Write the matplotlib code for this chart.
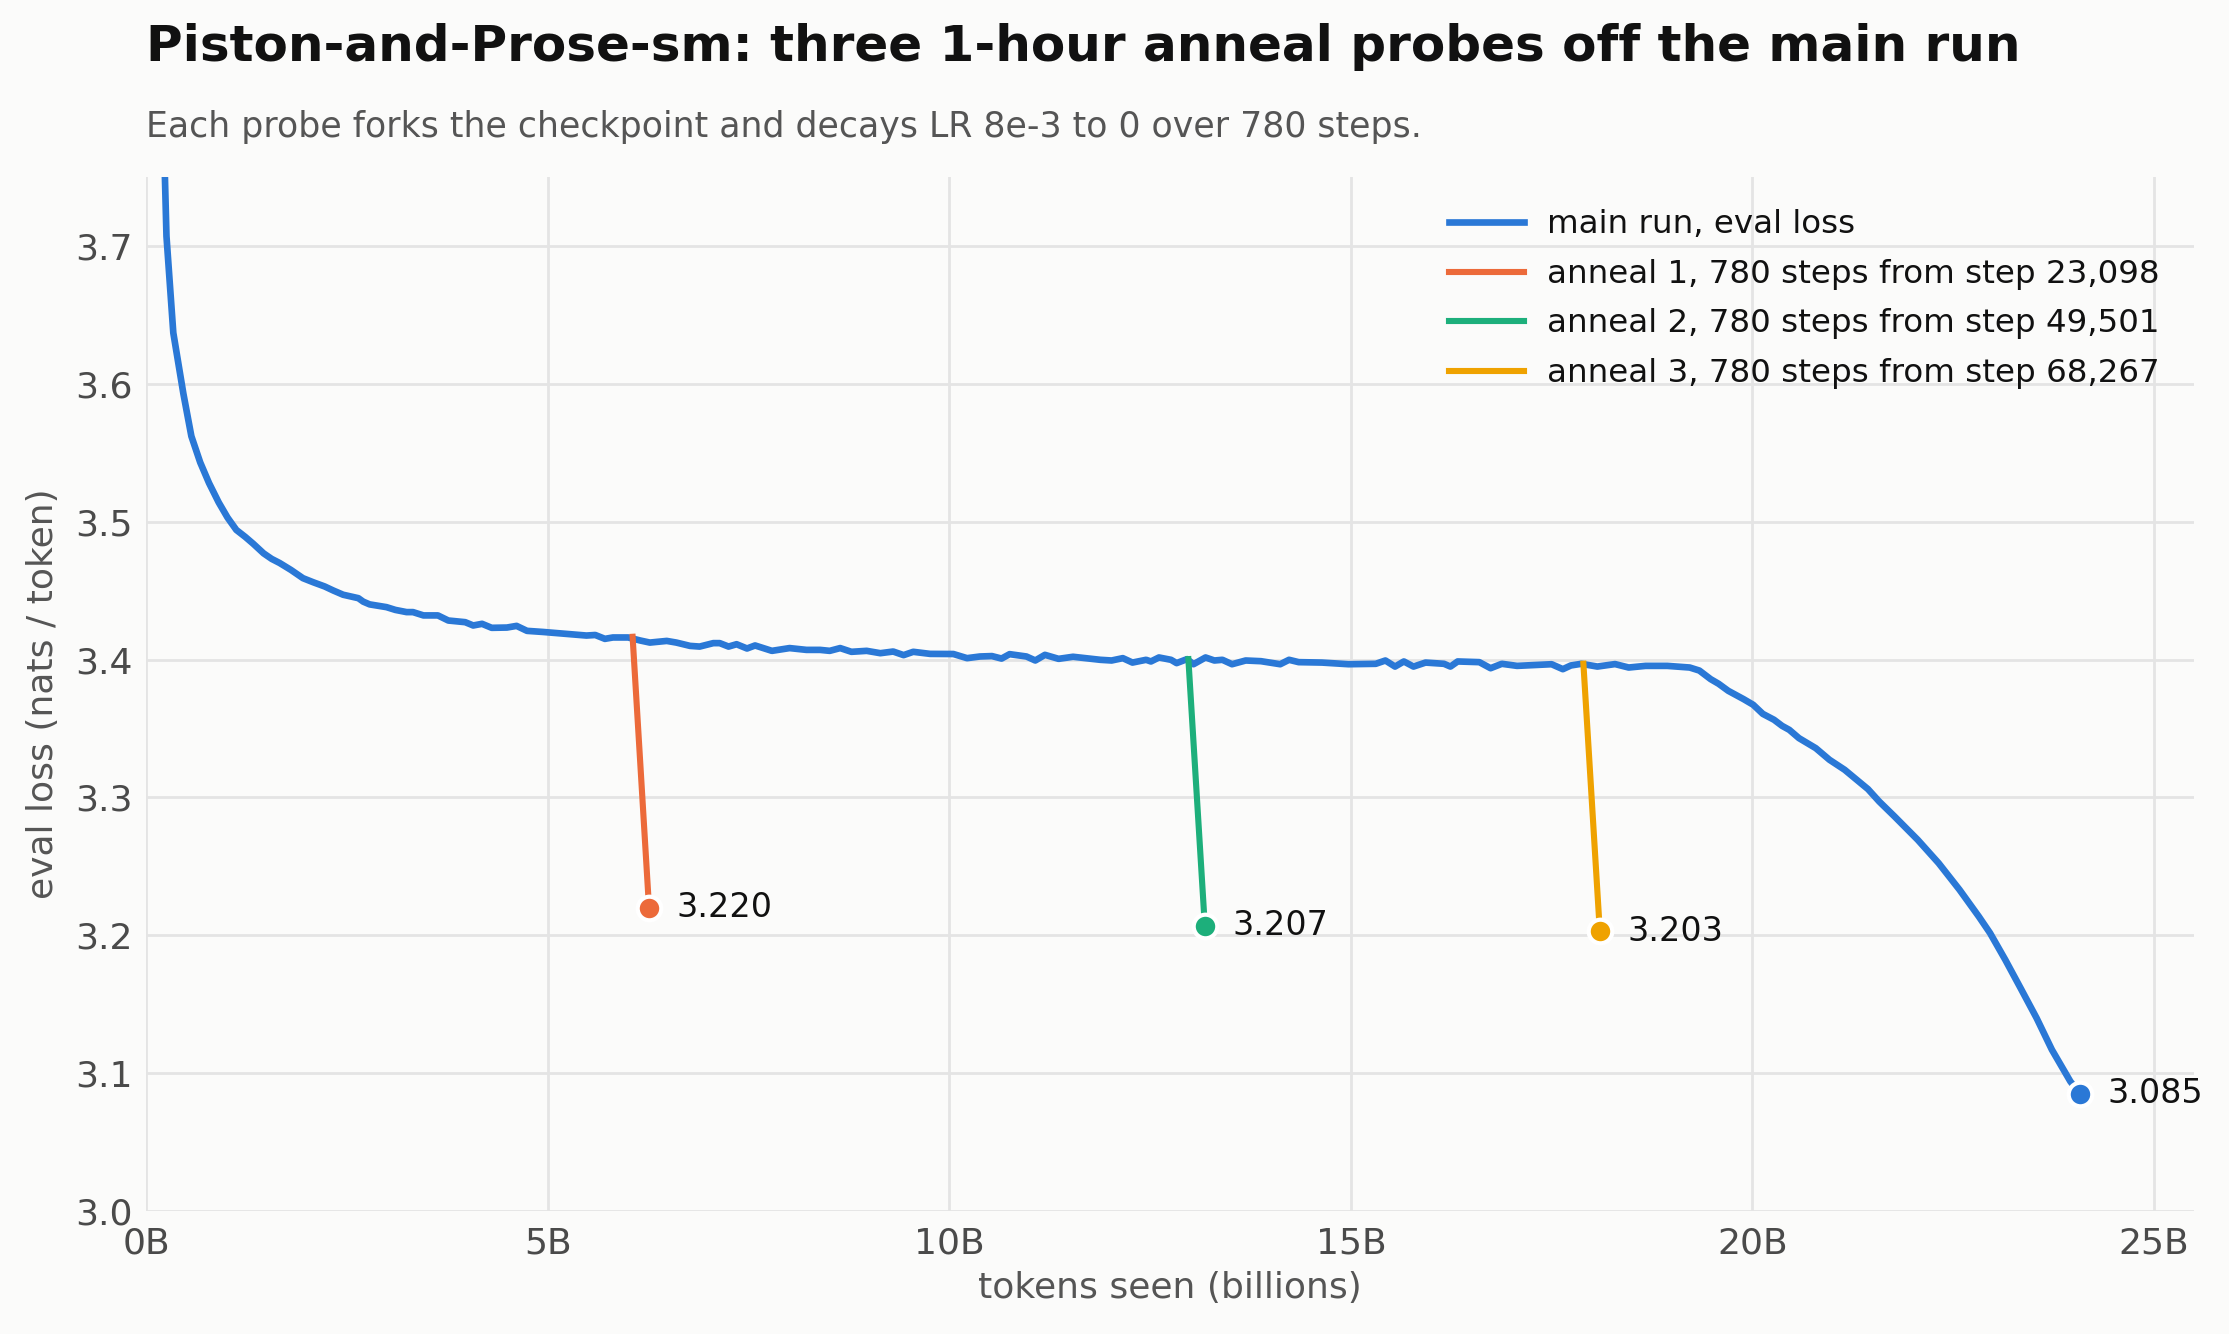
import matplotlib
matplotlib.use("Agg")
import matplotlib.pyplot as plt
from matplotlib.ticker import FixedLocator, FuncFormatter

# ---------------- data ----------------
main_tokens_b = [
    0.14, 0.25, 0.335, 0.46, 0.56, 0.67, 0.78, 0.90, 1.01, 1.12, 1.23, 1.33, 1.46, 1.56,
    1.66, 1.80, 1.95, 2.08, 2.22, 2.33, 2.45, 2.64, 2.70, 2.78, 2.99, 3.10, 3.24, 3.32,
    3.45, 3.63, 3.76, 3.97, 4.07, 4.18, 4.30, 4.49, 4.61, 4.74, 4.94, 5.23, 5.48, 5.59,
    5.71, 5.81, 6.00, 6.15, 6.27, 6.48, 6.60, 6.77, 6.89, 7.06, 7.14, 7.25, 7.35, 7.48,
    7.58, 7.79, 8.01, 8.22, 8.39, 8.51, 8.64, 8.78, 8.97, 9.14, 9.30, 9.43, 9.55, 9.76,
    10.05, 10.22, 10.38, 10.53, 10.65, 10.75, 10.96, 11.07, 11.19, 11.36, 11.54, 11.72,
    11.88, 12.02, 12.16, 12.28, 12.45, 12.51, 12.61, 12.76, 12.83, 12.96, 13.04, 13.19,
    13.30, 13.40, 13.52, 13.69, 13.88, 14.12, 14.23, 14.35, 14.64, 14.97, 15.31, 15.43,
    15.55, 15.66, 15.78, 15.93, 16.16, 16.24, 16.33, 16.60, 16.74, 16.88, 17.07, 17.31,
    17.50, 17.64, 17.74, 17.87, 18.07, 18.29, 18.46, 18.67, 18.94, 19.22, 19.34, 19.48,
    19.58, 19.70, 19.89, 20.01, 20.13, 20.27, 20.37, 20.46, 20.58, 20.79, 20.96, 21.15,
    21.44, 21.58, 21.77, 22.06, 22.32, 22.58, 22.82, 22.96, 23.15, 23.34, 23.54, 23.73,
    23.96, 24.08,
]
main_loss = [
    3.950, 3.707, 3.637, 3.593, 3.562, 3.543, 3.528, 3.514, 3.503, 3.494, 3.489, 3.484, 3.477, 3.473,
    3.470, 3.465, 3.459, 3.456, 3.453, 3.450, 3.447, 3.4445, 3.442, 3.440, 3.438, 3.436, 3.4344, 3.4344,
    3.432, 3.432, 3.4283, 3.4271, 3.4247, 3.4259, 3.4230, 3.4232, 3.4244, 3.4208, 3.420, 3.4186, 3.4174, 3.4178,
    3.4150, 3.4160, 3.4160, 3.4138, 3.4123, 3.4135, 3.4123, 3.4099, 3.4094, 3.4119, 3.4119, 3.4094, 3.4111, 3.4080,
    3.4102, 3.4063, 3.4083, 3.4070, 3.4070, 3.4063, 3.4083, 3.4056, 3.4063, 3.4046, 3.4058, 3.4032, 3.4056, 3.4041,
    3.4040, 3.4010, 3.4022, 3.4025, 3.4007, 3.4039, 3.4022, 3.3993, 3.4034, 3.4005, 3.4020, 3.4008,
    3.3998, 3.3993, 3.4010, 3.3978, 3.3998, 3.3986, 3.4015, 3.3998, 3.3974, 3.4003, 3.3966, 3.4015,
    3.3993, 3.3998, 3.3966, 3.3993, 3.3988, 3.3966, 3.3998, 3.3981, 3.3978, 3.3966, 3.3969, 3.3993,
    3.3949, 3.3986, 3.3949, 3.3978, 3.3969, 3.3949, 3.3986, 3.3981, 3.3937, 3.3969, 3.3954, 3.3961,
    3.3966, 3.3930, 3.3957, 3.3969, 3.3949, 3.3967, 3.3942, 3.3954, 3.3954, 3.3942, 3.3920, 3.3858,
    3.3824, 3.3773, 3.3713, 3.3672, 3.3606, 3.3563, 3.3519, 3.3490, 3.3430, 3.3357, 3.3273, 3.3200,
    3.3060, 3.2970, 3.2862, 3.2692, 3.2523, 3.2330, 3.2136, 3.2016, 3.1822, 3.1617, 3.1399, 3.1170,
    3.0940, 3.0850,
]

tokens_per_step = 262144
anneal_steps = 780
anneal_start_step = [23098, 49501, 68267]
anneal_start_loss = [3.4165, 3.4003, 3.3970]
anneal_end_loss = [3.220, 3.207, 3.203]

x_ticks = [0, 5, 10, 15, 20, 25]
y_ticks = [3.0, 3.1, 3.2, 3.3, 3.4, 3.5, 3.6, 3.7]

title = "Piston-and-Prose-sm: three 1-hour anneal probes off the main run"
subtitle = "Each probe forks the checkpoint and decays LR 8e-3 to 0 over 780 steps."

# ---------------- style ----------------
BG = "#fbfbfa"
C_MAIN = "#2a78d6"
C_ANNEAL = ["#ec6a3a", "#1daf7b", "#efa200"]

plt.rcParams["font.family"] = ["DejaVu Sans"]

W, H, DPI = 2229, 1334, 200
fig = plt.figure(figsize=(W / DPI, H / DPI), dpi=DPI, facecolor=BG)
ax_l, ax_r, ax_t, ax_b = 146.4, 2194.0, 177.0, 1211.0
ax = fig.add_axes([ax_l / W, 1 - ax_b / H, (ax_r - ax_l) / W, (ax_b - ax_t) / H])
ax.set_facecolor(BG)

ax.plot(main_tokens_b, main_loss, color=C_MAIN, lw=2.4, zorder=3,
        label="main run, eval loss", solid_joinstyle="round")
ax.plot(main_tokens_b[-1], main_loss[-1], "o", color=C_MAIN, ms=8.5,
        mec="white", mew=1.5, zorder=6)
ax.annotate(f"{main_loss[-1]:.3f}", (main_tokens_b[-1], main_loss[-1]),
            xytext=(10, 0), textcoords="offset points", va="center", ha="left",
            fontsize=12, color="#111111", zorder=7)

for i, (s, l0, l1) in enumerate(zip(anneal_start_step, anneal_start_loss, anneal_end_loss)):
    x0 = s * tokens_per_step / 1e9
    x1 = (s + anneal_steps) * tokens_per_step / 1e9
    ax.plot([x0, x1], [l0, l1], color=C_ANNEAL[i], lw=2.2, zorder=4,
            label=f"anneal {i + 1}, {anneal_steps} steps from step {s:,}")
    ax.plot(x1, l1, "o", color=C_ANNEAL[i], ms=8.5, mec="white", mew=1.5, zorder=6)
    ax.annotate(f"{l1:.3f}", (x1, l1), xytext=(10, 0), textcoords="offset points",
                va="center", ha="left", fontsize=12, color="#111111", zorder=7)

ax.set_xlim(0, 25.5)
ax.set_ylim(3.0, 3.75)
ax.xaxis.set_major_locator(FixedLocator(x_ticks))
ax.yaxis.set_major_locator(FixedLocator(y_ticks))
ax.xaxis.set_major_formatter(FuncFormatter(lambda v, p: f"{v:.0f}B"))
ax.yaxis.set_major_formatter(FuncFormatter(lambda v, p: f"{v:.1f}"))
ax.tick_params(axis="both", length=0, labelsize=13, labelcolor="#4a4a4a")
ax.tick_params(axis="x", pad=5.5)
ax.tick_params(axis="y", pad=5)
for sp in ax.spines.values():
    sp.set_visible(False)
ax.grid(True, color="#e4e4e4", lw=1.0)
ax.set_axisbelow(True)

ax.set_xlabel("tokens seen (billions)", fontsize=13, color="#555555")
ax.set_ylabel("eval loss (nats / token)", fontsize=13, color="#555555")
ax.xaxis.set_label_coords(0.5, -0.058)
ax.yaxis.set_label_coords(-0.042, 0.5)

leg = ax.legend(loc="upper right", bbox_to_anchor=(0.9977, 0.997), frameon=False,
                fontsize=11.7, handlelength=2.31, handletextpad=0.71, labelspacing=0.57)
for t in leg.get_texts():
    t.set_color("#111111")

fig.text(ax_l / W, 1 - 61 / H, title, fontsize=18, fontweight="bold",
         color="#111111", ha="left", va="baseline")
fig.text(ax_l / W, 1 - 136.7 / H, subtitle, fontsize=12.5, color="#555555",
         ha="left", va="baseline")

fig.savefig("out.png", dpi=DPI, facecolor=BG)
